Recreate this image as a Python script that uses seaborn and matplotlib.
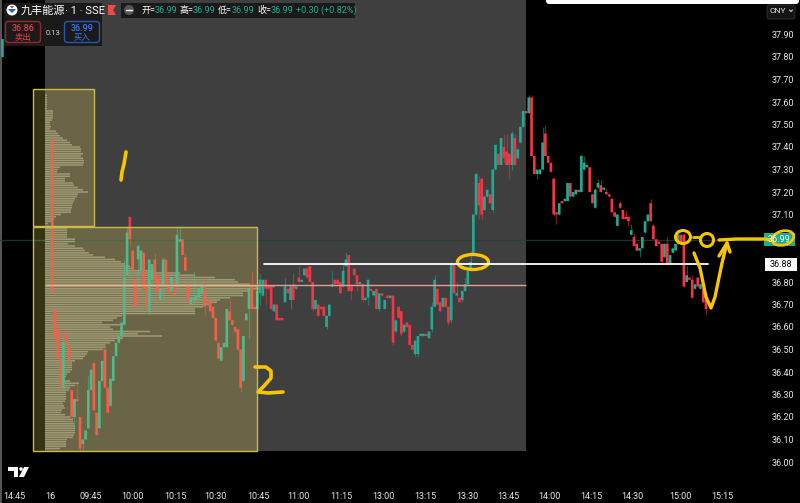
import numpy as np
import pandas as pd
import matplotlib
matplotlib.use("Agg")
import matplotlib.pyplot as plt
from matplotlib.patches import Rectangle, Ellipse, Circle, FancyBboxPatch, Polygon
import seaborn as sns

bodies = [
(37.43,36.75,'r'),(36.68,36.55,'r'),(36.59,36.46,'r'),(36.46,36.33,'r'),(36.53,36.33,'g'),(36.58,36.52,'r'),(36.51,36.45,'r'),(36.32,36.20,'r'),
(36.28,36.20,'g'),(36.28,36.27,'r'),(36.20,36.06,'r'),(36.10,36.08,'g'),(36.14,36.10,'g'),(36.32,36.15,'g'),(36.41,36.32,'g'),(36.44,36.23,'r'),
(36.22,36.12,'r'),(36.36,36.15,'g'),(36.45,36.36,'g'),(36.50,36.33,'r'),(36.33,36.22,'r'),(36.37,36.25,'g'),(36.47,36.36,'g'),(36.53,36.47,'g'),
(36.56,36.53,'g'),(36.62,36.56,'g'),(36.82,36.61,'g'),(37.02,36.83,'g'),(37.09,36.99,'r'),(36.94,36.85,'r'),(36.81,36.69,'r'),(36.96,36.90,'g'),
(36.94,36.85,'g'),(36.93,36.77,'r'),(36.79,36.68,'r'),(36.90,36.67,'g'),(36.88,36.81,'g'),(36.90,36.81,'r'),(36.83,36.76,'r'),(36.77,36.72,'g'),
(36.90,36.79,'g'),(36.90,36.79,'r'),(36.79,36.75,'r'),(36.82,36.76,'g'),(36.81,36.74,'r'),(37.01,36.79,'g'),(36.99,36.98,'g'),(36.99,36.92,'r'),
(36.91,36.85,'r'),(36.79,36.71,'r'),(36.73,36.70,'g'),(36.73,36.72,'g'),(36.74,36.72,'g'),(36.77,36.73,'g'),(36.79,36.75,'g'),(36.79,36.69,'r'),
(36.71,36.70,'r'),(36.72,36.67,'r'),(36.69,36.64,'r'),(36.64,36.54,'r'),(36.53,36.46,'r'),(36.51,36.45,'g'),(36.53,36.51,'g'),(36.68,36.51,'g'),
(36.67,36.63,'r'),(36.63,36.61,'r'),(36.60,36.58,'r'),(36.59,36.50,'r'),(36.50,36.33,'r'),(36.56,36.36,'g'),(36.66,36.63,'g'),(36.77,36.68,'g'),
(36.78,36.68,'r'),(36.69,36.68,'r'),(36.76,36.68,'g'),
(36.81,36.75,'g'),(36.81,36.74,'g'),(36.81,36.77,'r'),(36.78,36.77,'r'),(36.78,36.68,'r'),(36.70,36.67,'g'),(36.70,36.63,'r'),(36.64,36.63,'r'),
(36.64,36.63,'r'),(36.78,36.71,'g'),(36.77,36.75,'r'),(36.78,36.72,'g'),(36.79,36.72,'r'),(36.78,36.77,'g'),(36.82,36.80,'r'),(36.81,36.80,'g'),
(36.86,36.83,'g'),(36.86,36.82,'r'),(36.87,36.80,'r'),(36.80,36.68,'r'),(36.72,36.68,'g'),(36.70,36.65,'r'),(36.69,36.68,'r'),(36.69,36.65,'r'),
(36.65,36.60,'g'),(36.70,36.65,'g'),(36.79,36.78,'g'),(36.81,36.79,'r'),(36.81,36.79,'r'),(36.80,36.75,'r'),(36.85,36.78,'g'),(36.90,36.87,'g'),
(36.92,36.76,'r'),(36.78,36.76,'r'),(36.86,36.83,'r'),(36.83,36.79,'r'),(36.80,36.79,'g'),(36.79,36.72,'r'),(36.73,36.72,'g'),(36.81,36.73,'g'),
(36.77,36.76,'r'),(36.76,36.74,'g'),(36.77,36.68,'r'),(36.75,36.68,'g'),(36.75,36.74,'r'),(36.72,36.68,'g'),(36.74,36.73,'r'),(36.74,36.73,'g'),
(36.74,36.53,'r'),(36.63,36.58,'g'),(36.69,36.64,'r'),(36.67,36.57,'r'),(36.61,36.58,'g'),(36.62,36.60,'r'),(36.61,36.52,'r'),(36.52,36.50,'r'),
(36.54,36.48,'g'),(36.56,36.48,'g'),(36.57,36.56,'g'),(36.57,36.56,'g'),(36.57,36.56,'r'),(36.58,36.55,'g'),(36.69,36.59,'g'),(36.81,36.69,'g'),
(36.77,36.70,'r'),(36.71,36.67,'r'),(36.73,36.69,'g'),(36.73,36.69,'r'),(36.69,36.62,'r'),(36.88,36.63,'g'),(36.88,36.75,'r'),(36.75,36.74,'g'),
(36.73,36.71,'r'),(36.76,36.72,'g'),(36.79,36.76,'g'),(36.85,36.79,'g'),(36.89,36.85,'g'),(37.10,36.93,'g'),
(37.28,37.10,'g'),(37.24,37.14,'r'),(37.26,37.10,'r'),(37.18,37.12,'g'),(37.21,37.18,'g'),(37.19,37.15,'r'),(37.30,37.12,'g'),(37.41,37.30,'g'),
(37.37,37.32,'r'),(37.44,37.32,'g'),(37.40,37.35,'r'),(37.38,37.32,'r'),(37.37,37.32,'r'),(37.46,37.32,'g'),(37.44,37.32,'r'),(37.39,37.35,'g'),
(37.49,37.42,'g'),(37.56,37.49,'g'),(37.56,37.55,'r'),(37.62,37.55,'g'),(37.62,37.36,'r'),(37.36,37.28,'r'),(37.30,37.28,'g'),(37.30,37.28,'g'),
(37.42,37.30,'g'),(37.46,37.36,'r'),(37.36,37.33,'r'),(37.33,37.29,'r'),(37.26,37.10,'r'),(37.11,37.10,'r'),(37.15,37.10,'g'),(37.16,37.15,'r'),
(37.17,37.16,'g'),(37.24,37.16,'g'),(37.24,37.18,'r'),(37.20,37.18,'g'),(37.21,37.19,'g'),(37.21,37.20,'r'),(37.36,37.20,'g'),(37.33,37.30,'g'),
(37.32,37.31,'g'),(37.31,37.20,'r'),(37.19,37.15,'r'),(37.21,37.13,'g'),(37.24,37.22,'g'),(37.23,37.20,'r'),(37.22,37.21,'g'),(37.20,37.19,'r'),
(37.19,37.18,'r'),(37.17,37.11,'r'),(37.11,37.09,'r'),(37.10,37.05,'g'),(37.15,37.13,'r'),(37.12,37.08,'r'),(37.09,37.08,'r'),(37.09,37.07,'r'),
(37.03,37.01,'g'),(37.00,36.96,'r'),(36.97,36.94,'r'),(36.95,36.94,'g'),(37.00,36.95,'g'),(37.07,37.02,'g'),(37.10,37.07,'g'),(37.15,37.07,'r'),
(37.05,36.99,'r'),(36.99,36.96,'r'),(36.98,36.97,'r'),(36.97,36.89,'r'),(36.97,36.91,'g'),(36.97,36.88,'r'),(36.92,36.88,'g'),(36.95,36.93,'g'),
(36.97,36.94,'g'),(37.01,36.97,'g'),(37.01,36.97,'r'),(37.01,36.78,'r'),(36.83,36.80,'g'),(36.82,36.81,'r'),(36.81,36.73,'r'),(36.79,36.77,'g'),
(36.82,36.78,'r'),(36.79,36.77,'g'),(36.77,36.71,'r'),(36.72,36.68,'r'),
]
top_prices = [b[0] for b in bodies]
bottom_prices = [b[1] for b in bodies]
directions = [b[2] for b in bodies]

wick_highs = {4:36.56,9:36.35,13:36.38,19:36.55,26:36.90,27:37.05,31:36.97,37:36.93,40:36.91,45:37.05,46:37.05,48:36.93,
              51:36.85,64:36.72,72:36.85,75:36.84,84:36.82,87:36.84,89:36.87,92:36.87,101:36.85,105:36.88,106:36.93,
              137:36.71,138:36.83,144:36.89,146:36.80,149:36.82,151:36.94,153:37.29,154:37.27,163:37.46,164:37.46,
              166:37.47,167:37.46,172:37.63,173:37.63,177:37.49,178:37.50,191:37.37,192:37.36,196:37.22,197:37.26,
              198:37.26,200:37.22,205:37.16,207:37.12,209:37.06,210:37.02,216:37.17,217:37.06,222:37.00,226:37.03,
              228:37.02,229:36.87,231:36.83,235:36.79}
wick_lows = {8:36.14,10:36.05,11:36.05,28:36.96,31:36.76,35:36.66,40:36.72,45:36.76,51:36.70,55:36.65,68:36.31,71:36.55,
             75:36.70,77:36.70,86:36.68,94:36.67,99:36.59,108:36.72,110:36.76,112:36.71,114:36.70,118:36.67,123:36.52,
             126:36.56,131:36.47,132:36.47,137:36.58,143:36.61,144:36.62,148:36.71,152:36.92,154:37.08,155:37.08,
             159:37.11,163:37.33,165:37.26,166:37.30,175:37.26,182:37.06,208:37.05,212:36.91,220:36.88,236:36.66}

prev_bars = [-18, -17, -16]
prev_tops = [37.88, 37.98, 37.93]
prev_bottoms = [37.80, 37.90, 37.88]
prev_dirs = ['g', 'r', 'g']

profile_upper_top = 37.63
profile_upper = [2,2,2,2,2,2,2,8,8,8,8,7,5,5,6,5,11,13,15,18,22,25,27,35,36,36,38,36,38,39,39,38,15,13,12,25,25,20,20,28,29,33,38,43,33,32,30,29,28,27,27,26,26,16,11,9,8,3]
profile_lower_top = 37.04
profile_lower = [22,22,22,22,22,30,30,23,30,38,40,44,48,60,70,76,80,85,88,110,135,150,170,190,193,205,230,215,205,198,198,185,175,172,165,158,150,150,150,77,72,68,57,77,65,68,105,93,117,78,70,65,60,60,58,43,42,40,38,30,27,27,27,27,25,22,21,20,25,34,30,25,24,21,21,21,21,20,18,19,20,17,16,20,25,28,28,29,30,30,30,30,29,28,22,21,21,21,15]

y_ticks = [37.9,37.8,37.7,37.6,37.5,37.4,37.3,37.2,37.1,36.8,36.7,36.6,36.5,36.4,36.3,36.2,36.1,36.0]
x_tick_bars = [-13.8,-0.8,14,29.1,44.3,59,74.3,89,104.2,119.7,134.6,149.7,164.5,179.3,194.5,209.3,226.6,241.8]
x_tick_labels = ['14:45','16','09:45','10:00','10:15','10:30','10:45','11:00','11:15','13:00','13:15','13:30','13:45','14:00','14:15','14:30','15:00','15:15']

level_white = 36.88
level_pink = 36.785
level_last = 36.985

stroke_one = [(126,152),(124,164),(122,172),(121,180)]
stroke_two = [(255,367),(266,367),(271,371),(271,378),(264,386),(258,392),(268,393),(283,392)]
stroke_v = [(694,253),(700,268),(706,297),(711,308),(715,297),(722,263),(727,243)]
stroke_head = [(719,256),(727,243),(730,252)]
stroke_arrow = [(719,240),(737,239),(765,239),(770,240)]
stroke_dash = [(693,237),(699,237)]

RED, GREEN = '#f23645', '#22ab94'
sns.set_theme(style='dark', rc={'axes.facecolor':'none','figure.facecolor':'black','axes.grid':False})
LATIN = ['Roboto', 'Noto Sans CJK SC', 'DejaVu Sans']
plt.rcParams['font.family'] = LATIN

W, H = 800, 503
fig = plt.figure(figsize=(W/100, H/100), dpi=100, facecolor='black')

def pixel_axes(z):
    a = fig.add_axes([0,0,1,1], zorder=z)
    a.set_xlim(0,W); a.set_ylim(H,0); a.axis('off')
    return a
bg = pixel_axes(0)
ov = pixel_axes(5)
ax = fig.add_axes([0, 28/H, 762/W, 475/H], zorder=2)
ax.set_facecolor('none')

bg.add_patch(Rectangle((45,0),481,451,fc='#3f3f3f',ec='none'))
bg.add_patch(Rectangle((0,0),1.5,H,fc='#555555',ec='none'))
bg.add_patch(FancyBboxPatch((546,-4),253,8,boxstyle='round,pad=0,rounding_size=3',fc='white',ec='none'))

PX = 2.77
X0 = (45-52.3)/PX
for top, rows in [(profile_upper_top, profile_upper),(profile_lower_top, profile_lower)]:
    prices = np.round(top - 0.01*np.arange(len(rows)),2)
    sns.barplot(x=np.array(rows)/PX, y=prices, orient='y', native_scale=True, left=X0, width=0.7,
                color='#84827a', saturation=1, errorbar=None, linewidth=0, snap=False, ax=ax, zorder=1)

df = pd.DataFrame({'bar':list(prev_bars)+list(range(len(bodies))),
                   'top':prev_tops+top_prices,'bottom':prev_bottoms+bottom_prices,'dir':prev_dirs+directions})
df['high'] = [wick_highs.get(b,t) for b,t in zip(df.bar,df.top)]
df['low'] = [wick_lows.get(b,l) for b,l in zip(df.bar,df.bottom)]
df['size'] = df.top-df.bottom
for d,col in [('r',RED),('g',GREEN)]:
    s = df[df.dir==d].sort_values('bar')
    ax.vlines(s.bar,s.low,s.high,color=col,lw=0.9,alpha=0.5,zorder=2)
    sns.barplot(data=s,x='bar',y='size',bottom=s.bottom.values,native_scale=True,width=0.95,color=col,
                saturation=1,errorbar=None,linewidth=0,snap=False,ax=ax,zorder=3)

ax.hlines(level_pink,X0,(526-52.3)/PX,color='#e89a94',lw=1,zorder=4)
ax.axhline(level_last,color='#1f3f38',lw=1,alpha=0.8,zorder=0.5)

ax.set_xlim(-52.3/PX,(762-52.3)/PX)
ax.set_ylim(36-13/225,36+462/225)
ax.set_xlabel(''); ax.set_ylabel('')
ax.yaxis.tick_right()
ax.set_yticks(y_ticks); ax.set_yticklabels([f'{v:.2f}' for v in y_ticks])
ax.set_xticks(x_tick_bars); ax.set_xticklabels(x_tick_labels)
ax.tick_params(axis='both',length=0,labelsize=6.5,colors='#e8e8ec')
ax.tick_params(axis='y',pad=7)
ax.tick_params(axis='x',pad=12)
for sp in ax.spines.values(): sp.set_visible(False)

# overlay: drawing tools
FILL=(1,240/255,95/255,0.22); EDGE='#cbb94e'
ov.add_patch(Rectangle((33,89),61,137,fc=FILL,ec=EDGE,lw=1))
ov.add_patch(Rectangle((33,227),224,224,fc=FILL,ec=EDGE,lw=1))
ov.plot([264,708],[264,264],color='white',lw=1.3)
INK='#f7c600'
for st,lw in [(stroke_one,2.6),(stroke_two,2.6),(stroke_v,2.4),(stroke_head,2.4),(stroke_arrow,2.4),(stroke_dash,2)]:
    xs,ys=zip(*st); ov.plot(xs,ys,color=INK,lw=lw,solid_capstyle='round',solid_joinstyle='round')
ov.add_patch(Ellipse((473,262),31,15,fc='none',ec=INK,lw=2.4))
ov.add_patch(Ellipse((683,237),15,13,fc='none',ec=INK,lw=2.2))
ov.add_patch(Ellipse((707,240),13,13,fc='none',ec=INK,lw=2.2))

# price tags
ov.add_patch(Rectangle((764,233),31,13,fc=GREEN,ec='none'))
ov.text(779.5,239.5,'36.99',color='white',fontsize=6.5,ha='center',va='center')
ov.add_patch(Ellipse((783,238),22,14,angle=-15,fc='none',ec=INK,lw=2))
ov.add_patch(Rectangle((765,258),32,13,fc='white',ec='none'))
ov.text(781,264.5,'36.88',color='black',fontsize=6.5,ha='center',va='center')
ov.add_patch(FancyBboxPatch((767,5),28,14,boxstyle='round,pad=0,rounding_size=2',fc='#141414',ec='#333333',lw=0.6))
ov.text(769,10.5,'CNY',color='#e8e8ec',fontsize=6,ha='left',va='center')
ov.plot([789.5,791,792.5],[10,11.5,10],color='#e8e8ec',lw=0.7)

# header
ov.add_patch(Rectangle((4,3),98,43,fc='#1a1a1a',ec='none'))
ov.add_patch(Circle((12,10),5.5,fc='white',ec='none'))
ov.add_patch(Polygon([(8,9),(16,9),(12,13)],fc='#1e5fc0',ec='none'))
ov.add_patch(Polygon([(10,6),(14,6),(12,8.5)],fc='#e23030',ec='none'))
ov.text(21,11,'九丰能源',color='white',fontsize=8,va='center',ha='left',family=['Noto Sans CJK SC','DejaVu Sans'])
ov.text(65,11,'· 1 · SSE',color='white',fontsize=8,va='center',ha='left')
ov.add_patch(FancyBboxPatch((5.5,21.5),35,21,boxstyle='round,pad=0,rounding_size=3',fc='#1a1a1a',ec='#9c2430',lw=1))
ov.text(23,28,'36.86',color='#f23645',fontsize=6.5,fontweight='medium',ha='center',va='center')
ov.text(23,37,'卖出',color='#f23645',fontsize=6,ha='center',va='center')
ov.text(52.5,32.5,'0.13',color='#d1d4dc',fontsize=5.5,ha='center',va='center')
ov.add_patch(FancyBboxPatch((64.5,21.5),35,21,boxstyle='round,pad=0,rounding_size=3',fc='#1a1a1a',ec='#2a55b8',lw=1))
ov.text(82,28,'36.99',color='#3b7bf0',fontsize=6.5,fontweight='medium',ha='center',va='center')
ov.text(82,37,'买入',color='#3b7bf0',fontsize=6,ha='center',va='center')
ov.add_patch(Polygon([(108,5),(116,5),(113,10),(116,15),(108,15)],fc='#f24a4a',ec='none'))
ov.add_patch(Rectangle((121,3),234,15,fc='#1a1a1a',ec='none'))
ov.add_patch(Circle((129,10),5,fc='#555555',ec='none'))
ov.plot([126,132],[10,10],color='white',lw=1)
for lab,val in [('开=',141),('高=',179),('低=',218),('收=',257)]:
    ov.text(val,10.5,lab,color='white',fontsize=6.5,va='center',ha='left')
    ov.text(val+14,10.5,'36.99',color=GREEN,fontsize=6.5,va='center',ha='left')
ov.text(296,10.5,'+0.30 (+0.82%)',color=GREEN,fontsize=6.5,va='center',ha='left')
ov.add_patch(Polygon([(8,467),(18,467),(18,477),(14,477),(14,471),(8,471)],fc='white',ec='none'))
ov.add_patch(Circle((21,469),1.8,fc='white',ec='none'))
ov.add_patch(Polygon([(24,467),(29,467),(24,477),(19,477)],fc='white',ec='none'))

fig.savefig('out.png',dpi=100,facecolor='black')
